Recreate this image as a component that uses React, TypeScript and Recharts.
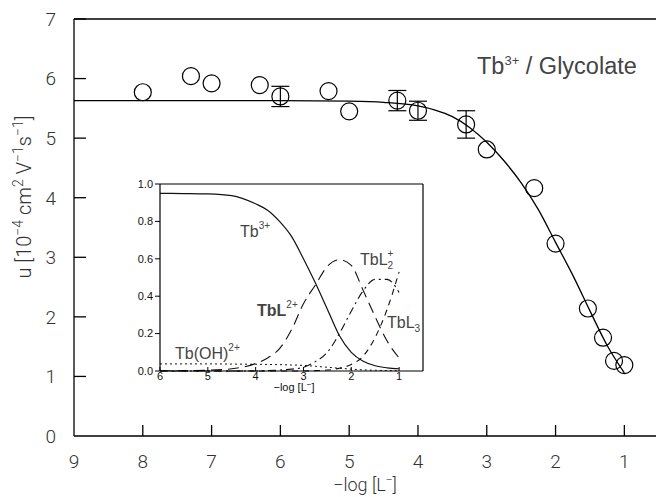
import React from "react";
import {
  ComposedChart,
  LineChart,
  Line,
  Scatter,
  ErrorBar,
  XAxis,
  YAxis,
  ReferenceLine,
} from "recharts";

// measured mobilities
const pointX = [8.0, 7.3, 7.0, 6.3, 6.0, 5.3, 5.0, 4.3, 4.0, 3.3, 3.0, 2.31, 2.0, 1.53, 1.31, 1.15, 1.0];
const pointY = [5.77, 6.04, 5.92, 5.89, 5.7, 5.79, 5.45, 5.63, 5.46, 5.23, 4.81, 4.16, 3.23, 2.14, 1.65, 1.26, 1.19];
const pointErr = [0, 0, 0, 0, 0.17, 0, 0, 0.17, 0.16, 0.23, 0, 0, 0, 0, 0, 0, 0];

// fitted curve
const fitX = [9, 8, 7, 6, 5, 4.5, 4, 3.75, 3.5, 3.25, 3, 2.75, 2.5, 2.25, 2, 1.75, 1.5, 1.25, 1.0];
const fitY = [5.63, 5.63, 5.63, 5.63, 5.62, 5.6, 5.54, 5.47, 5.36, 5.18, 4.93, 4.62, 4.25, 3.8, 3.25, 2.7, 2.1, 1.52, 1.06];

// species distribution (inset)
const specX = [6, 5.5, 5, 4.5, 4, 3.75, 3.5, 3.25, 3, 2.75, 2.5, 2.25, 2, 1.75, 1.5, 1.25, 1];
const tbFree = [0.95, 0.949, 0.947, 0.938, 0.894, 0.86, 0.8, 0.72, 0.6, 0.47, 0.33, 0.19, 0.1, 0.052, 0.028, 0.017, 0.012];
const tbL = [0.001, 0.002, 0.004, 0.012, 0.04, 0.07, 0.12, 0.22, 0.36, 0.46, 0.56, 0.595, 0.565, 0.43, 0.29, 0.16, 0.07];
const tbL2 = [0, 0, 0, 0, 0, 0.002, 0.005, 0.01, 0.02, 0.05, 0.1, 0.2, 0.32, 0.43, 0.49, 0.49, 0.42];
const tbL3 = [0, 0, 0, 0, 0, 0, 0, 0, 0, 0.002, 0.005, 0.015, 0.035, 0.08, 0.18, 0.33, 0.53];
const tbOH = [0.038, 0.038, 0.038, 0.037, 0.036, 0.035, 0.034, 0.032, 0.03, 0.025, 0.02, 0.015, 0.01, 0.006, 0.004, 0.002, 0.001];

const mainXTicks = [9, 8, 7, 6, 5, 4, 3, 2, 1];
const mainYTicks = [0, 1, 2, 3, 4, 5, 6, 7];
const insetXTicks = [6, 5, 4, 3, 2, 1];
const insetYTicks = [0, 0.2, 0.4, 0.6, 0.8, 1.0];

const points = pointX.map((x, i) => ({ x, u: pointY[i], err: pointErr[i] }));
const fit = fitX.map((x, i) => ({ x, u: fitY[i] }));
const species = specX.map((x, i) => ({
  x,
  tb: tbFree[i],
  tbl: tbL[i],
  tbl2: tbL2[i],
  tbl3: tbL3[i],
  tboh: tbOH[i],
}));

const thin = { fontFamily: "Roboto, sans-serif", fontWeight: 300, fill: "#333" };
const arial = { fontFamily: "'Liberation Sans', Arial, sans-serif", fill: "#444" };
const small = { fontFamily: "'Liberation Sans', Arial, sans-serif", fill: "#111", fontSize: 11 };

const MainXTick = ({ x, y, payload }: any) => (
  <g>
    {payload.value !== 9 && <line x1={x} x2={x} y1={y} y2={y - 11} stroke="#000" strokeWidth={1.3} />}
    <text x={x} y={y + 32} textAnchor="middle" fontSize={19} {...thin}>
      {payload.value}
    </text>
  </g>
);

const MainYTick = ({ x, y, payload }: any) => (
  <g>
    {payload.value !== 0 && <line x1={x} x2={x + 12} y1={y} y2={y} stroke="#000" strokeWidth={1.3} />}
    <text x={x - 18} y={y} dy="0.36em" textAnchor="end" fontSize={19} {...thin}>
      {payload.value}
    </text>
  </g>
);

const InsetXTick = ({ x, y, payload }: any) => (
  <g>
    <line x1={x} x2={x} y1={y} y2={y - 4} stroke="#000" strokeWidth={1} />
    <text x={x} y={y + 9} textAnchor="middle" {...small}>
      {payload.value}
    </text>
  </g>
);

const InsetYTick = ({ x, y, payload }: any) => (
  <g>
    <line x1={x} x2={x - 5} y1={y} y2={y} stroke="#000" strokeWidth={1} />
    <text x={x - 7} y={y} dy="0.35em" textAnchor="end" {...small}>
      {Number(payload.value).toFixed(1)}
    </text>
  </g>
);

const Ring = ({ cx, cy }: any) => <circle cx={cx} cy={cy} r={8.5} fill="none" stroke="#000" strokeWidth={1.2} />;

export default function App() {
  return (
    <div style={{ position: "absolute", left: 0, top: 0, width: 656, height: 497, background: "#fff" }}>
      <div style={{ position: "absolute", left: 0, top: 0 }}>
        <ComposedChart width={656} height={497} margin={{ top: 19, right: 0, left: 0, bottom: 0 }}>
          <XAxis
            type="number"
            dataKey="x"
            domain={[0.54, 9]}
            reversed
            allowDataOverflow
            ticks={mainXTicks}
            interval={0}
            height={61}
            tickSize={0}
            tickMargin={0}
            tickLine={false}
            axisLine={{ stroke: "#000", strokeWidth: 1.3 }}
            tick={<MainXTick />}
          />
          <YAxis
            type="number"
            dataKey="u"
            domain={[0, 7]}
            ticks={mainYTicks}
            interval={0}
            width={74}
            tickSize={0}
            tickMargin={0}
            tickLine={false}
            axisLine={{ stroke: "#000", strokeWidth: 1.3 }}
            tick={<MainYTick />}
          />
          <ReferenceLine y={7} stroke="#000" strokeWidth={1.3} ifOverflow="visible" />
          <Line
            data={fit}
            dataKey="u"
            type="monotone"
            stroke="#000"
            strokeWidth={1.3}
            dot={false}
            isAnimationActive={false}
          />
          <Scatter data={points} dataKey="u" shape={<Ring />} isAnimationActive={false}>
            <ErrorBar dataKey="err" direction="y" width={9} stroke="#000" strokeWidth={1.2} />
          </Scatter>
        </ComposedChart>
      </div>

      <div style={{ position: "absolute", left: 100, top: 175 }}>
        <LineChart width={330} height={230} data={species} margin={{ top: 9, right: 7, left: 0, bottom: 0 }}>
          <XAxis
            type="number"
            dataKey="x"
            domain={[0.5, 6]}
            reversed
            allowDataOverflow
            ticks={insetXTicks}
            interval={0}
            height={34}
            tickSize={0}
            tickMargin={0}
            tickLine={false}
            axisLine={{ stroke: "#000", strokeWidth: 1.2 }}
            tick={<InsetXTick />}
          />
          <YAxis
            type="number"
            domain={[0, 1]}
            ticks={insetYTicks}
            interval={0}
            width={60}
            tickSize={0}
            tickMargin={0}
            tickLine={false}
            axisLine={{ stroke: "#000", strokeWidth: 1.2 }}
            tick={<InsetYTick />}
          />
          <ReferenceLine y={1} stroke="#000" strokeWidth={1.2} ifOverflow="visible" />
          <ReferenceLine x={0.5} stroke="#000" strokeWidth={1.2} ifOverflow="visible" />
          <Line dataKey="tb" type="monotone" stroke="#111" strokeWidth={1.2} dot={false} isAnimationActive={false} />
          <Line dataKey="tbl" type="monotone" stroke="#111" strokeWidth={1.1} strokeDasharray="11 6" dot={false} isAnimationActive={false} />
          <Line dataKey="tbl2" type="monotone" stroke="#111" strokeWidth={1.1} strokeDasharray="8 4 2 4" dot={false} isAnimationActive={false} />
          <Line dataKey="tbl3" type="monotone" stroke="#111" strokeWidth={1.1} strokeDasharray="6 5" dot={false} isAnimationActive={false} />
          <Line dataKey="tboh" type="monotone" stroke="#111" strokeWidth={1} strokeDasharray="2 3" dot={false} isAnimationActive={false} />
        </LineChart>
      </div>

      <svg width={656} height={497} style={{ position: "absolute", left: 0, top: 0, pointerEvents: "none" }}>
        <text x={477} y={74} fontSize={23.5} {...arial}>
          Tb<tspan dy={-9} fontSize={13}>3+</tspan>
          <tspan dy={9}> / Glycolate</tspan>
        </text>

        <text x={365} y={491} textAnchor="middle" fontSize={18} {...thin}>
          −log  [L<tspan dy={-7} fontSize={12}>−</tspan>
          <tspan dy={7}>]</tspan>
        </text>

        <text transform="translate(31,197) rotate(-90)" textAnchor="middle" fontSize={20} {...thin}>
          u [10<tspan dy={-8} fontSize={14}>−4</tspan>
          <tspan dy={8}> cm</tspan>
          <tspan dy={-8} fontSize={14}>2</tspan>
          <tspan dy={8}> V</tspan>
          <tspan dy={-8} fontSize={14}>−1</tspan>
          <tspan dy={8}>s</tspan>
          <tspan dy={-8} fontSize={14}>−1</tspan>
          <tspan dy={8}>]</tspan>
        </text>

        <text x={294} y={391} textAnchor="middle" {...small}>
          −log [L<tspan dy={-4} fontSize={8}>−</tspan>
          <tspan dy={4}>]</tspan>
        </text>

        <text x={240} y={237} fontSize={16} {...arial}>
          Tb<tspan dy={-8} fontSize={10}>3+</tspan>
        </text>
        <text x={257} y={316} fontSize={16} fontWeight="bold" {...arial}>
          TbL<tspan dy={-8} fontSize={10} fontWeight="normal">2+</tspan>
        </text>
        <text x={175} y={359} fontSize={16} {...arial}>
          Tb(OH)<tspan dy={-8} fontSize={10}>2+</tspan>
        </text>
        <text x={360} y={265} fontSize={16} {...arial}>
          TbL<tspan dy={-8} fontSize={10}>+</tspan>
          <tspan dx={-6} dy={12} fontSize={10}>2</tspan>
        </text>
        <text x={387} y={328} fontSize={16} {...arial}>
          TbL<tspan dy={4} fontSize={10}>3</tspan>
        </text>
      </svg>
    </div>
  );
}
